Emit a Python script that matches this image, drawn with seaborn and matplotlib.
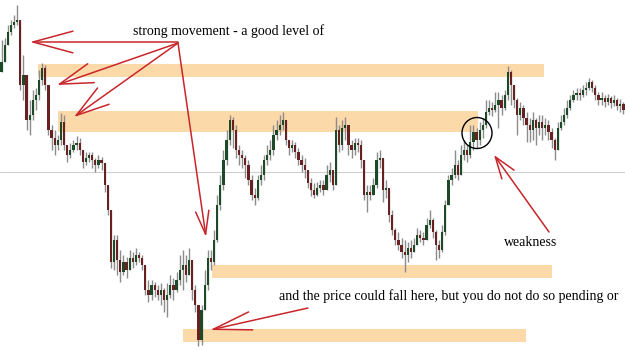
import numpy as np
import matplotlib
matplotlib.use("Agg")
import matplotlib.pyplot as plt
import seaborn as sns
from matplotlib.patches import Ellipse

# ---------------- data (price units) ----------------
close = [289, 306, 319, 326, 329, 331, 266, 276, 231, 236, 251, 256, 271, 283, 266, 221, 213, 206, 211, 229,
         206, 196, 201, 206, 208, 201, 189, 193, 196, 191, 186, 191, 188, 166, 141, 89, 111, 91, 79, 89,
         81, 93, 89, 96, 93, 86, 61, 56, 66, 61, 56, 61, 51, 56, 66, 61, 71, 81, 86, 76,
         91, 61, 46, 11, 41, 66, 93, 89, 111, 146, 166, 191, 211, 231, 221, 201, 196, 193, 186, 171,
         156, 153, 171, 176, 191, 196, 201, 216, 221, 226, 231, 211, 203, 206, 199, 191, 186, 181, 168, 161,
         156, 163, 166, 161, 176, 181, 166, 221, 206, 223, 226, 206, 201, 208, 206, 191, 156, 159, 156, 166,
         191, 193, 161, 163, 136, 121, 111, 106, 99, 96, 103, 99, 106, 116, 113, 111, 126, 131, 119, 106,
         101, 119, 146, 171, 176, 186, 176, 196, 201, 196, 209, 219, 211, 221, 226, 239, 243, 241, 246, 251,
         243, 256, 279, 266, 251, 236, 243, 233, 226, 221, 231, 223, 229, 223, 226, 219, 211, 201, 223, 229,
         236, 243, 251, 256, 258, 256, 261, 263, 269, 263, 256, 251, 253, 249, 253, 248, 251, 245, 247, 241]
high = [311, 313, 326, 331, 336, 346, 301, 296, 256, 251, 261, 263, 281, 288, 286, 266, 226, 221, 216, 238,
        236, 206, 208, 211, 215, 213, 201, 199, 199, 199, 193, 196, 194, 186, 166, 141, 116, 116, 101, 96,
        94, 101, 99, 103, 99, 96, 86, 71, 71, 69, 66, 68, 63, 68, 76, 73, 79, 96, 101, 96,
        103, 91, 66, 46, 46, 81, 101, 101, 121, 156, 176, 201, 221, 236, 234, 226, 206, 201, 196, 191,
        176, 163, 176, 186, 196, 206, 211, 226, 231, 236, 239, 231, 211, 211, 209, 203, 196, 193, 181, 173,
        168, 169, 171, 171, 186, 189, 181, 234, 226, 231, 234, 221, 211, 213, 213, 211, 191, 166, 166, 173,
        199, 201, 191, 171, 163, 141, 123, 119, 113, 111, 109, 111, 113, 123, 121, 119, 133, 141, 133, 121,
        111, 126, 151, 176, 183, 201, 191, 206, 211, 206, 226, 226, 223, 229, 233, 251, 251, 249, 259, 259,
        256, 261, 285, 281, 266, 253, 249, 246, 239, 233, 239, 233, 236, 236, 233, 231, 223, 213, 229, 236,
        243, 251, 256, 261, 263, 263, 266, 269, 273, 271, 266, 259, 259, 256, 257, 255, 256, 253, 252, 249]
low = [279, 291, 306, 316, 323, 326, 261, 251, 221, 216, 231, 241, 251, 266, 261, 216, 201, 196, 201, 206,
       201, 189, 193, 199, 201, 196, 183, 186, 189, 183, 179, 183, 181, 159, 136, 83, 81, 76, 69, 76,
       73, 83, 83, 86, 89, 81, 56, 49, 51, 54, 51, 46, 39, 34, 53, 51, 59, 66, 61, 69,
       76, 51, 39, 5, 6, 51, 61, 81, 86, 109, 141, 161, 186, 206, 203, 193, 186, 183, 173, 166,
       151, 146, 151, 166, 171, 186, 191, 196, 211, 216, 221, 206, 196, 199, 193, 186, 179, 173, 163, 155,
       153, 155, 159, 156, 161, 169, 161, 201, 199, 201, 211, 196, 193, 196, 199, 183, 151, 139, 151, 156,
       163, 183, 149, 153, 129, 116, 106, 101, 93, 79, 89, 93, 99, 106, 109, 106, 111, 123, 113, 91,
       93, 99, 116, 146, 166, 173, 171, 176, 191, 189, 193, 201, 203, 206, 213, 223, 236, 235, 239, 223,
       236, 241, 251, 246, 243, 216, 231, 226, 209, 209, 211, 206, 216, 211, 216, 211, 203, 191, 201, 221,
       226, 233, 241, 249, 251, 251, 254, 256, 261, 259, 251, 246, 246, 244, 246, 243, 245, 241, 239, 237]
first_open = 279

# zones: (price low, price high, left px, right px)
zone_lo = [274, 219, 73, 9]
zone_hi = [287, 240, 86, 22]
zone_x0 = [38, 58, 212, 183]
zone_x1 = [544, 478, 552, 526]
mid_line = 179

label_top = "strong movement - a good level of"
label_weak = "weakness"
label_bottom = "and the price could fall here, but you do not do so pending or"

# ---------------- figure ----------------
sns.set_theme(style="white")
plt.rcParams["font.family"] = ["Liberation Serif", "DejaVu Serif"]

W, H = 625, 351
fig = plt.figure(figsize=(W / 100, H / 100), dpi=100)
ax = fig.add_axes([0, 0, 1, 1])
n = len(close)
idx = np.arange(n)
c = np.array(close, float)
o = np.array([first_open] + close[:-1], float)
hi = np.maximum(np.array(high, float), np.maximum(o, c))
lo = np.minimum(np.array(low, float), np.minimum(o, c))
up = c >= o

ax.set_xlim(-0.5, n - 0.5)
ax.set_ylim(0, H)
ax.axis("off")

for a, b, x0, x1 in zip(zone_lo, zone_hi, zone_x0, zone_x1):
    ax.axhspan(a, b, xmin=x0 / W, xmax=x1 / W, color="#fcd9a8", lw=0, zorder=1)
ax.axhline(mid_line, color="#cfcfcf", lw=0.8, zorder=0.5)

ax.vlines(idx, lo, hi, color="#8c8c8c", lw=1.0, zorder=2)
body_h = np.abs(c - o)
body_h = np.where(body_h < 1.5, 1.5, body_h)
ax.bar(idx[up], body_h[up], bottom=np.minimum(o, c)[up], width=0.72,
       color="#1d4a26", lw=0, zorder=3)
ax.bar(idx[~up], body_h[~up], bottom=np.minimum(o, c)[~up], width=0.72,
       color="#682020", lw=0, zorder=3)

# ---------------- annotation layer in pixel coords ----------------
ov = fig.add_axes([0, 0, 1, 1], zorder=5)
ov.set_xlim(0, W)
ov.set_ylim(H, 0)
ov.axis("off")
ov.patch.set_alpha(0)

red = "#c8262b"

def arrow(x0, y0, x1, y1, hl, hw):
    ov.annotate("", xy=(x1, y1), xytext=(x0, y0),
                arrowprops=dict(arrowstyle=f"->,head_length={hl},head_width={hw}",
                                color=red, lw=1.1, shrinkA=0, shrinkB=0))

arrow(178, 42, 30, 42, 2.4, 0.65)
arrow(178, 43, 57, 85, 2.0, 0.6)
arrow(178, 43, 74, 117, 2.0, 0.6)
arrow(178, 43, 206, 237, 1.4, 0.4)
arrow(549, 232, 494, 155, 1.3, 0.45)
arrow(308, 308, 210, 330, 2.3, 0.55)

ov.add_patch(Ellipse((477, 133), 30, 31, fill=False, ec="black", lw=1.0))

ov.text(133, 35, label_top, fontsize=10, color="black", va="baseline")
ov.text(504, 246, label_weak, fontsize=10, color="black", va="baseline")
ov.text(279, 300, label_bottom, fontsize=10, color="black", va="baseline")

fig.savefig("out.png", dpi=100)
